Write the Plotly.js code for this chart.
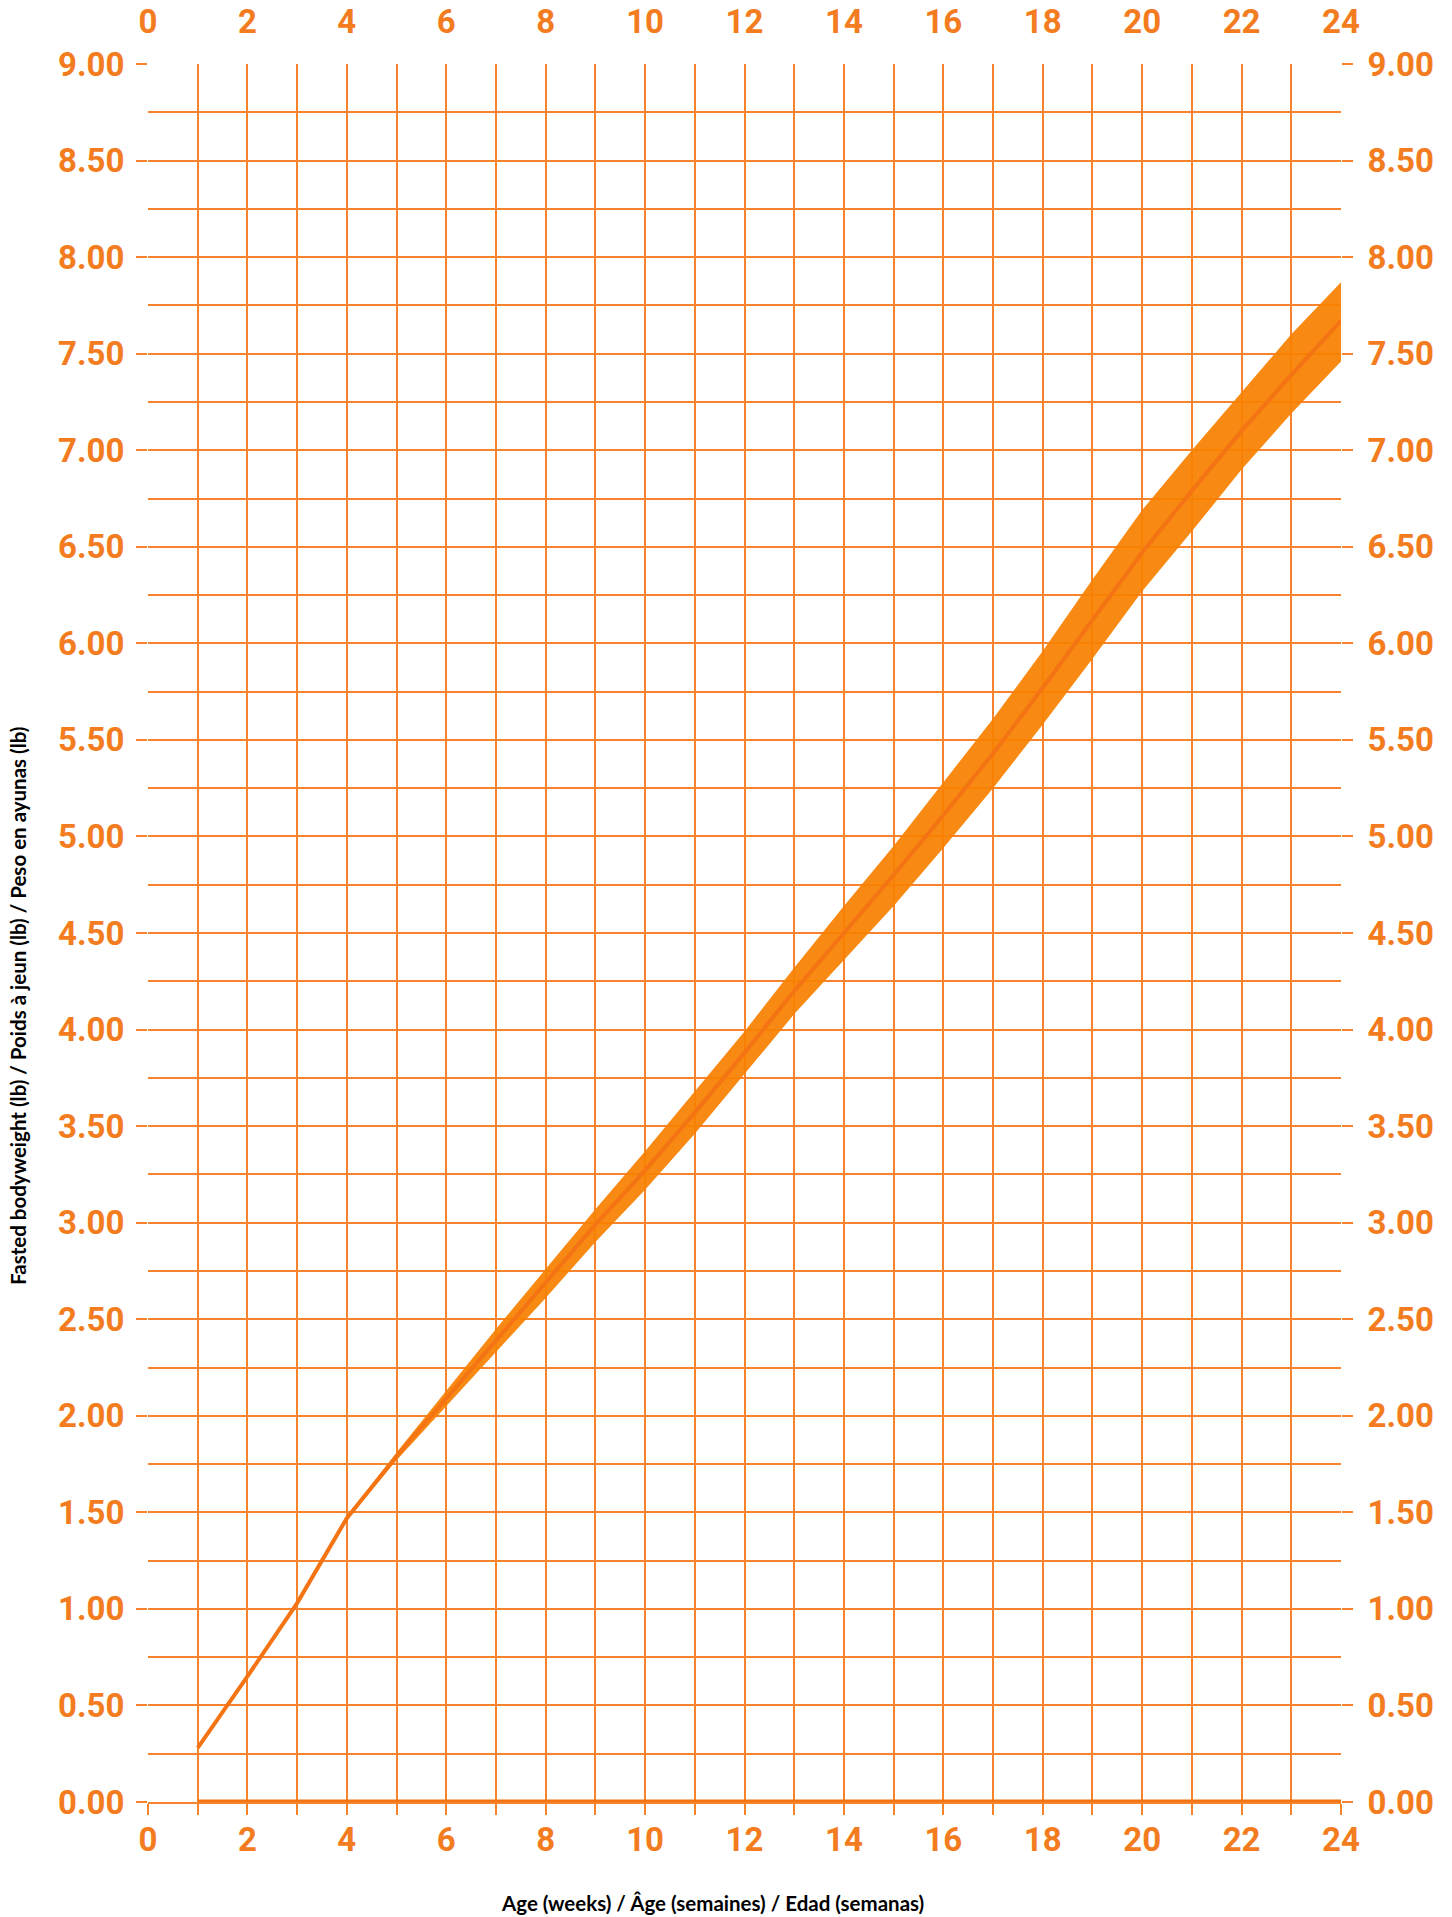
<!DOCTYPE html>
<html>
<head>
<meta charset="utf-8">
<script src="https://cdn.plot.ly/plotly-3.0.1.min.js"></script>
<style>
html,body{margin:0;padding:0;background:#fff;}
#chart{width:1452px;height:1917px;}
</style>
</head>
<body>
<div id="chart"></div>
<script>
// Age in weeks
const weeks = [1,2,3,4,5,6,7,8,9,10,11,12,13,14,15,16,17,18,19,20,21,22,23,24];
// Target (centre line) fasted bodyweight, lb
const target = [0.28,0.65,1.03,1.47,1.79,2.09,2.39,2.69,2.99,3.27,3.57,3.88,4.20,4.50,4.80,5.11,5.43,5.77,6.12,6.47,6.79,7.10,7.39,7.67];
// Upper and lower edges of the shaded range, lb
const upper = [0.29,0.66,1.04,1.48,1.81,2.13,2.45,2.76,3.07,3.37,3.68,3.99,4.32,4.64,4.95,5.28,5.61,5.96,6.33,6.69,7.00,7.30,7.60,7.87];
const lower = [0.27,0.64,1.02,1.46,1.77,2.05,2.33,2.61,2.90,3.17,3.46,3.77,4.08,4.36,4.64,4.94,5.25,5.58,5.92,6.27,6.58,6.90,7.19,7.46];
// Empty baseline series drawn at zero
const baseline = [0,0,0,0,0,0,0,0,0,0,0,0,0,0,0,0,0,0,0,0,0,0,0,0];

const xTitle = "Age (weeks) / Âge (semaines) / Edad (semanas)";
const yTitle = "Fasted bodyweight (lb) / Poids à jeun (lb) / Peso en ayunas (lb)";

const ORANGE = "#F47C20";
const GRID = "#F7842C";
const LINE = "#F47414";

const tickFont = {family: "Roboto, Arial, sans-serif", size: 33, color: ORANGE, weight: "bold"};
const titleFont = {family: "Lato, 'Open Sans', sans-serif", size: 20.5, color: "#000000", weight: "bold"};

const traces = [
  {x: weeks, y: lower, type: "scatter", mode: "lines", line: {width: 0, color: "rgba(0,0,0,0)"}, hoverinfo: "skip", showlegend: false},
  {x: weeks, y: upper, type: "scatter", mode: "lines", fill: "tonexty", fillcolor: "rgba(247,128,0,0.93)", line: {width: 0, color: "rgba(0,0,0,0)"}, hoverinfo: "skip", showlegend: false},
  {x: weeks, y: target, type: "scatter", mode: "lines", line: {width: 4, color: LINE}, showlegend: false},
  {x: weeks, y: baseline, type: "scatter", mode: "lines", line: {width: 5, color: LINE}, showlegend: false, cliponaxis: false},
  {x: [], y: [], xaxis: "x2", yaxis: "y2", type: "scatter", showlegend: false}
];

const layout = {
  width: 1452,
  height: 1917,
  margin: {l: 148, r: 111, t: 64, b: 115, pad: 0},
  paper_bgcolor: "#ffffff",
  plot_bgcolor: "#ffffff",
  showlegend: false,
  xaxis: {
    range: [0, 24], tick0: 0, dtick: 2,
    showgrid: true, gridcolor: GRID, gridwidth: 2,
    zeroline: false,
    showline: true, linecolor: GRID, linewidth: 2,
    ticks: "outside", ticklen: 11, tickwidth: 2, tickcolor: GRID,
    ticklabelstandoff: -4,
    minor: {dtick: 1, showgrid: true, gridcolor: GRID, gridwidth: 2, ticks: "outside", ticklen: 11, tickwidth: 2, tickcolor: GRID},
    tickfont: tickFont,
    fixedrange: true
  },
  xaxis2: {
    overlaying: "x", side: "top", anchor: "y",
    range: [0, 24], tick0: 0, dtick: 2,
    showgrid: false, zeroline: false, showline: false,
    ticks: "",
    ticklabelstandoff: 23,
    tickfont: tickFont,
    fixedrange: true
  },
  yaxis: {
    range: [0, 9], tick0: 0, dtick: 0.5, tickformat: ".2f",
    showgrid: true, gridcolor: GRID, gridwidth: 2,
    zeroline: false,
    showline: false,
    ticks: "outside", ticklen: 11, tickwidth: 2, tickcolor: GRID,
    ticklabelstandoff: 5,
    minor: {dtick: 0.25, showgrid: true, gridcolor: GRID, gridwidth: 2, ticks: ""},
    tickfont: tickFont,
    fixedrange: true
  },
  yaxis2: {
    overlaying: "y", side: "right", anchor: "x",
    range: [0, 9], tick0: 0, dtick: 0.5, tickformat: ".2f",
    showgrid: false, zeroline: false, showline: false,
    ticks: "outside", ticklen: 11, tickwidth: 2, tickcolor: GRID,
    ticklabelstandoff: 8,
    tickfont: tickFont,
    fixedrange: true
  },
  annotations: [
    {text: xTitle, xref: "paper", yref: "paper", x: 0.473, y: -0.058, xanchor: "center", yanchor: "middle", showarrow: false, font: titleFont},
    {text: yTitle, xref: "paper", yref: "paper", x: -0.109, y: 0.458, xanchor: "center", yanchor: "middle", textangle: -90, showarrow: false, font: titleFont}
  ]
};

Plotly.newPlot("chart", traces, layout, {staticPlot: true, displayModeBar: false});
</script>
</body>
</html>
